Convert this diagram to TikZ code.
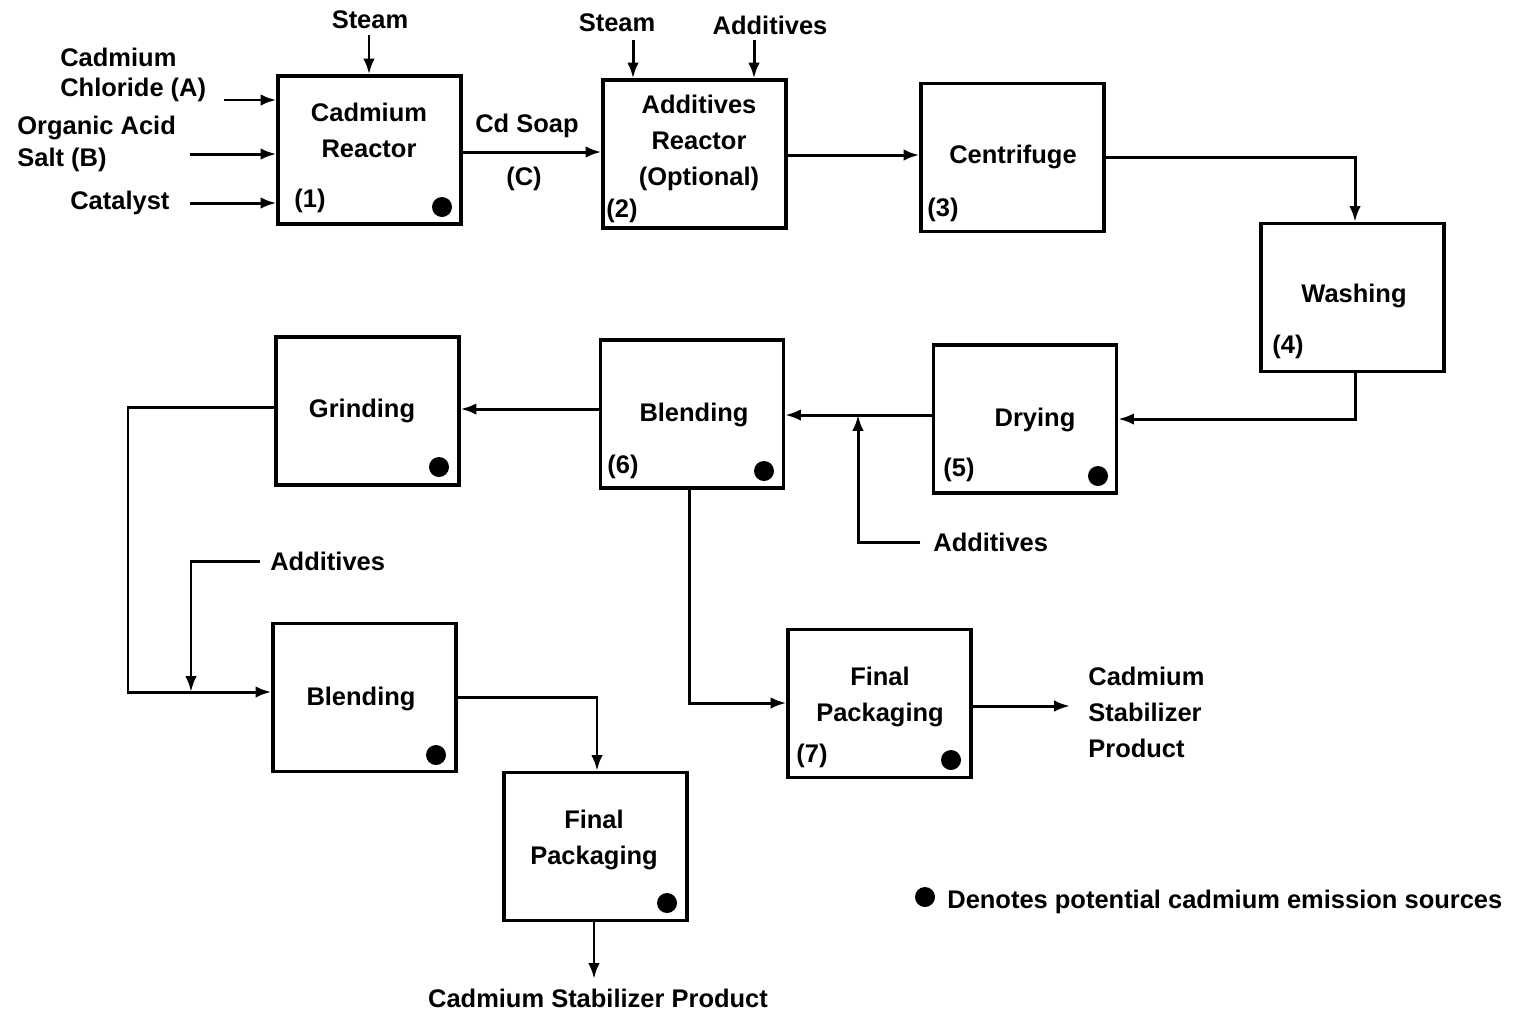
\documentclass[tikz,border=0pt]{standalone}
\usepackage{fontspec}
\setmainfont{Liberation Sans}
\usetikzlibrary{arrows.meta}
\begin{document}
\begin{tikzpicture}[x=0.02cm,y=-0.02cm,
  box/.style={draw, line width=1.8pt, minimum width=3.66cm, minimum height=2.96cm, inner sep=0},
  lbl/.style={inner sep=0, font=\bfseries\fontsize{14.5}{20.5}\selectfont},
  emis/.style={circle, fill=black, inner sep=0, minimum size=0.4cm},
  flow/.style={line width=1.7pt, -{Latex[length=9pt,width=6.5pt]}},
  wire/.style={line width=1.7pt}]
\useasboundingbox (0,0) rectangle (1515,1015);
% boxes
\node[box] (b1) at (369.5,150) {};
\node[box] (b2) at (694.5,154) {};
\node[box] (b3) at (1012.5,157.5) {};
\node[box] (b4) at (1352.5,297.5) {};
\node[box] (b5) at (1025,419) {};
\node[box] (b6) at (692,414) {};
\node[box] (gr) at (367.5,411) {};
\node[box] (bl) at (364.5,697.5) {};
\node[box] (fp7) at (879.5,703.5) {};
\node[box] (fp) at (595.5,846.5) {};
% box texts
\node[lbl, align=center] (t1) at (369,130) {Cadmium\\Reactor};
\node[lbl, align=center] (t2) at (699,143) {Additives\\Reactor\\(Optional)};
\node[lbl] (t3) at (1013,157) {Centrifuge};
\node[lbl] (t4) at (1354,296) {Washing};
\node[lbl] (t5) at (1035,420) {Drying};
\node[lbl] (t6) at (694,415) {Blending};
\node[lbl] (tg) at (362,411) {Grinding};
\node[lbl] (tb) at (361,699) {Blending};
\node[lbl, align=center] (t7) at (880,697) {Final\\Packaging};
\node[lbl, align=center] (tf) at (594,840) {Final\\Packaging};
% numbers
\node[lbl] (n1) at (310,201) {(1)};
\node[lbl] (n2) at (622,211) {(2)};
\node[lbl] (n3) at (943,210) {(3)};
\node[lbl] (n4) at (1288,347) {(4)};
\node[lbl] (n5) at (959,470) {(5)};
\node[lbl] (n6) at (623,467) {(6)};
\node[lbl] (n7) at (812,756) {(7)};
% emission dots
\node[emis] (d1) at (442,207) {};
\node[emis] (dg) at (439,467) {};
\node[emis] (d6) at (764,471) {};
\node[emis] (d5) at (1098,476) {};
\node[emis] (db) at (436,755) {};
\node[emis] (d7) at (951,760) {};
\node[emis] (df) at (667,903) {};
% inputs to reactor 1
\node[lbl, align=left, anchor=west, font=\bfseries\fontsize{14.5}{17}\selectfont] (cca) at (60,75) {Cadmium\\Chloride (A)};
\node[lbl, align=left, anchor=west, font=\bfseries\fontsize{14.5}{18}\selectfont] (oas) at (17,144) {Organic Acid\\Salt (B)};
\node[lbl, anchor=west] (cat) at (70,203) {Catalyst};
\coordinate (aA) at (224,100);
\coordinate (aB) at (190,154);
\coordinate (aC) at (190,203);
\draw[flow] (aA) -- (aA -| b1.west);
\draw[flow] (aB) -- (aB -| b1.west);
\draw[flow] (aC) -- (aC -| b1.west);
% steam / additives on top
\node[lbl] (st1) at (370,20) {Steam};
\coordinate (s1) at (369,35);
\draw[flow] (s1) -- (s1 |- b1.north);
\node[lbl] (st2) at (617,23) {Steam};
\coordinate (s2) at (633,40);
\draw[flow] (s2) -- (s2 |- b2.north);
\node[lbl] (ad2) at (770,25) {Additives};
\coordinate (s3) at (754,40);
\draw[flow] (s3) -- (s3 |- b2.north);
% Cd soap
\coordinate (cs) at (461,152);
\draw[flow] (b1.east |- cs) -- (b2.west |- cs);
\node[lbl] (cdsoap) at (527,126) {Cd Soap};
\node[lbl] (cl) at (524,179) {(C)};
% main flow
\coordinate (c23) at (786,155);
\draw[flow] (b2.east |- c23) -- (b3.west |- c23);
\coordinate (c34) at (1355,157);
\draw[flow] (b3.east |- c34) -| (c34 |- b4.north);
\coordinate (c45) at (1355,419);
\draw[flow] (c45 |- b4.south) -- (c45) -- (b5.east |- c45);
\coordinate (c56) at (858,415);
\draw[flow] (b5.west |- c56) -- (b6.east |- c56);
\node[lbl, anchor=west] (ad5) at (933,542) {Additives};
\draw[flow] ([xshift=-0.26cm]ad5.west) -| (c56);
\coordinate (c6g) at (530,409);
\draw[flow] (b6.west |- c6g) -- (gr.east |- c6g);
\coordinate (cg) at (128,407);
\coordinate (cb) at (128,692);
\draw[flow] (gr.west |- cg) -- (cg) -- (cb) -- (bl.west |- cb);
\node[lbl, anchor=west] (ad7) at (270,561) {Additives};
\coordinate (ja) at (191,692);
\draw[flow] ([xshift=-0.2cm]ad7.west) -| (ja);
\coordinate (cbf) at (597,697);
\draw[flow] (bl.east |- cbf) -| (cbf |- fp.north);
\node[lbl] (prod) at (598,998) {Cadmium Stabilizer Product};
\coordinate (pf) at (594,920);
\coordinate (pe) at (594,979);
\draw[flow] (pf) -- (pe);
\coordinate (c67) at (689,703);
\draw[flow] (c67 |- b6.south) |- (fp7.west |- c67);
\coordinate (c7p) at (1070,706);
\draw[flow] (fp7.east |- c7p) -- (c7p);
\node[lbl, align=left, anchor=west] (prod7) at (1088,712) {Cadmium\\Stabilizer\\Product};
% legend
\node[emis] (ld) at (925,897) {};
\node[lbl, anchor=west] (leg) at (947,902) {Denotes potential cadmium emission sources};
\end{tikzpicture}
\end{document}
